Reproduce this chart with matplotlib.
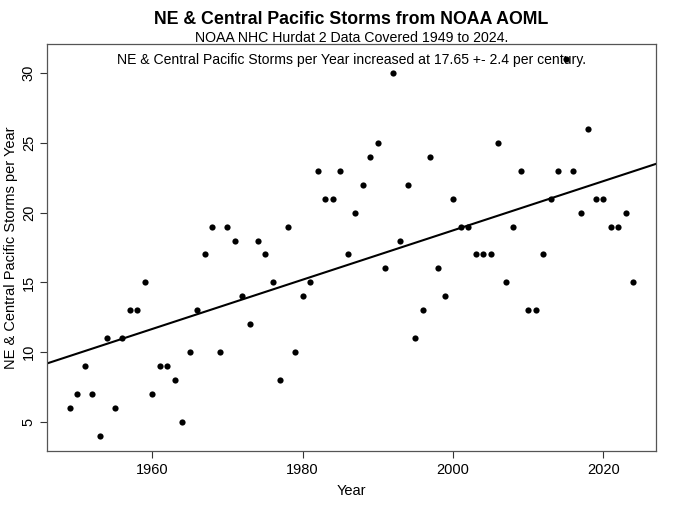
import matplotlib
matplotlib.use("Agg")
import matplotlib.pyplot as plt
import numpy as np

years = list(range(1949, 2025))
storms = [6, 7, 9, 7, 4, 11, 6, 11, 13, 13, 15,
          7, 9, 9, 8, 5, 10, 13, 17, 19, 10,
          19, 18, 14, 12, 18, 17, 15, 8, 19, 10,
          14, 15, 23, 21, 21, 23, 17, 20, 22, 24,
          25, 16, 30, 18, 22, 11, 13, 24, 16, 14,
          21, 19, 19, 17, 17, 17, 25, 15, 19, 23,
          13, 13, 17, 21, 23, 31, 23, 20, 26, 21,
          21, 19, 19, 20, 15]
x_ticks = [1960, 1980, 2000, 2020]
y_ticks = [5, 10, 15, 20, 25, 30]

title = "NE & Central Pacific Storms from NOAA AOML"
subtitle = "NOAA NHC Hurdat 2 Data Covered 1949 to 2024."
note = "NE & Central Pacific Storms per Year increased at 17.65 +- 2.4 per century."
xlabel = "Year"
ylabel = "NE & Central Pacific Storms per Year"

plt.rcParams['font.family'] = ['Liberation Sans', 'DejaVu Sans']

fig = plt.figure(figsize=(6.8, 5.09), dpi=100)
ax = fig.add_axes([47/680, 1 - 451/509, (656-47)/680, (451-44)/509])

x = np.array(years, dtype=float)
y = np.array(storms, dtype=float)
ax.scatter(x, y, s=20, color='black', zorder=3, linewidths=0)

b, a = np.polyfit(x, y, 1)
xr = (x.min() - 0.04*(x.max()-x.min()), x.max() + 0.04*(x.max()-x.min()))
yr = (y.min() - 0.04*(y.max()-y.min()), y.max() + 0.04*(y.max()-y.min()))
xl = np.array(xr)
ax.plot(xl, a + b*xl, color='black', lw=1.5, zorder=2)

ax.set_xlim(*xr)
ax.set_ylim(*yr)
ax.set_xticks(x_ticks)
ax.set_yticks(y_ticks)
ax.set_yticklabels([str(v) for v in y_ticks], rotation=90, va='center')
ax.tick_params(direction='out', length=5, width=0.8, colors='#333333', labelsize=10.5, labelcolor='black')
ax.tick_params(axis='y', pad=3)
for sp in ax.spines.values():
    sp.set_color('#555555')
    sp.set_linewidth(0.9)

ax.set_xlabel(xlabel, fontsize=10.5, labelpad=5)
ax.set_ylabel(ylabel, fontsize=10.5, labelpad=3)

fig.text(351.5/680, 1 - 20/509, title, ha='center', va='center', fontsize=12.8, fontweight='bold')
fig.text(351.5/680, 1 - 38/509, subtitle, ha='center', va='center', fontsize=10.2)
ax.text(0.5, 1 - (60-44)/(451-44), note, transform=ax.transAxes, ha='center', va='center', fontsize=10.1)

fig.savefig("out.png", dpi=100)
